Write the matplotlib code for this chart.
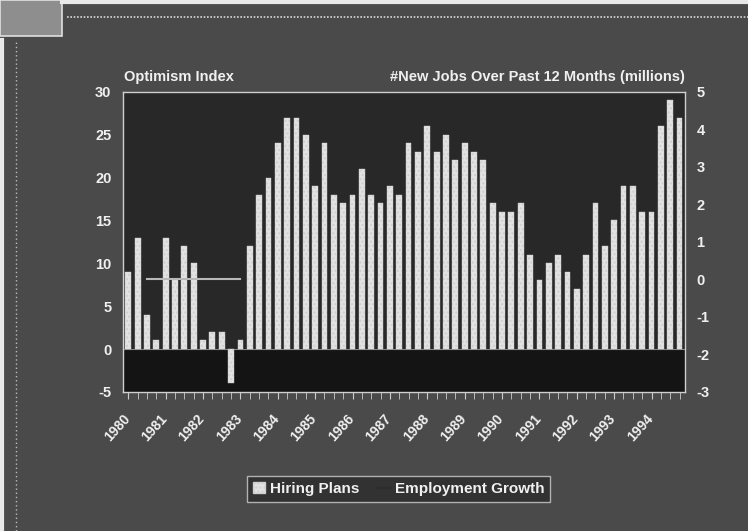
import matplotlib
matplotlib.use("Agg")
import matplotlib.pyplot as plt
import matplotlib.transforms as mtransforms
import numpy as np
from matplotlib.lines import Line2D
from matplotlib.patches import Rectangle

plt.rcParams['font.family'] = ['Liberation Sans', 'DejaVu Sans']

years = ["1980", "1981", "1982", "1983", "1984", "1985", "1986", "1987",
         "1988", "1989", "1990", "1991", "1992", "1993", "1994"]
hiring_plans = [9, 13, 4, 1, 13, 8, 12, 10, 1, 2, 2, -4,
                1, 12, 18, 20, 24, 27, 27, 25, 19, 24, 18, 17,
                18, 21, 18, 17, 19, 18, 24, 23, 26, 23, 25, 22,
                24, 23, 22, 17, 16, 16, 17, 11, 8, 10, 11, 9,
                7, 11, 17, 12, 15, 19, 19, 16, 16, 26, 29, 27]
# employment growth (right axis, millions); only a short segment is visible in the source
employment_growth = [np.nan, np.nan, 0, 0, 0, 0, 0, 0, 0, 0, 0, 0, 0] + [np.nan] * 47

left_ticks = [30, 25, 20, 15, 10, 5, 0, -5]
right_ticks = [5, 4, 3, 2, 1, 0, -1, -2, -3]

BG = "#4a4a4a"
PANEL = "#282828"
BAR = "#e2e2e2"
TXT = "#f0f0f0"

fig = plt.figure(figsize=(7.48, 5.31), dpi=100, facecolor=BG)
ax = fig.add_axes([0.164, 0.262, 0.752, 0.565])
ax.set_facecolor(PANEL)

x = np.arange(len(hiring_plans))
ax.axhspan(-5, 0, color="#141414", zorder=0)
bars = ax.bar(x, hiring_plans, width=0.62, color=BAR, edgecolor="#cfcfcf",
              linewidth=0.3, hatch="....", zorder=2, label="Hiring Plans")
ax.axhline(0, color="#8a8a8a", lw=0.8, zorder=1)

ax.set_xlim(-0.6, len(hiring_plans) - 0.4)
ax.set_ylim(-5, 30)
ax.set_yticks(left_ticks)
ax.set_yticklabels([str(t) for t in left_ticks], color=TXT, fontsize=10.5, fontweight="bold")
ax.tick_params(axis="y", length=0, pad=8)
ax.set_xticks(x[::4])
ax.set_xticklabels(years, rotation=48, ha="right", va="top", color=TXT,
                   fontsize=10, fontweight="bold", rotation_mode="anchor")
ax.set_xticks(x, minor=True)
ax.tick_params(axis="x", which="both", direction="out", length=5, color="#cccccc", pad=9)
offset = mtransforms.ScaledTranslation(-6 / 100, 0, fig.dpi_scale_trans)
for lbl in ax.get_xticklabels():
    lbl.set_transform(lbl.get_transform() + offset)

for s in ax.spines.values():
    s.set_color("#cfcfcf")
    s.set_linewidth(1.0)

ax2 = ax.twinx()
ax2.set_ylim(-3, 5)
ax2.set_yticks(right_ticks)
ax2.set_yticklabels([str(t) for t in right_ticks], color=TXT, fontsize=10.5, fontweight="bold")
ax2.tick_params(axis="y", length=0, pad=8)
ax2.plot(x, employment_growth, color="#b8b8b8", lw=1.5, zorder=3)
for s in ax2.spines.values():
    s.set_visible(False)

fig.text(0.166, 0.848, "Optimism Index", color=TXT, fontsize=10.5, fontweight="bold")
fig.text(0.916, 0.848, "#New Jobs Over Past 12 Months (millions)", color=TXT,
         fontsize=10.5, fontweight="bold", ha="right")

handles = [Rectangle((0, 0), 1, 1, facecolor=BAR, edgecolor="#cfcfcf", hatch="...."),
           Line2D([0], [0], color="#2c2c2c", lw=1.5)]
leg = fig.legend(handles, ["Hiring Plans", "Employment Growth"], loc="center",
                 bbox_to_anchor=(0.533, 0.079), ncol=2, frameon=True, fancybox=False,
                 facecolor="#2c2c2c", edgecolor="#cfcfcf", handlelength=0.8,
                 handleheight=0.7, handletextpad=0.3, columnspacing=1.2,
                 prop={"weight": "bold", "size": 11})
for t in leg.get_texts():
    t.set_color(TXT)

# decorative frame elements
fig.add_artist(Rectangle((0, 0.932), 0.083, 0.068, transform=fig.transFigure,
                         facecolor="#8e8e8e", edgecolor="#e0e0e0", lw=1.2))
fig.add_artist(Line2D([0.09, 1.0], [0.968, 0.968], transform=fig.transFigure,
                      color="#d8d8d8", lw=1.2, linestyle=(0, (1, 1))))
fig.add_artist(Line2D([0.022, 0.022], [0.0, 0.925], transform=fig.transFigure,
                      color="#bdbdbd", lw=1.0, linestyle=(0, (1, 2))))
fig.add_artist(Line2D([0.083, 1.0], [0.996, 0.996], transform=fig.transFigure,
                      color="#e8e8e8", lw=3))
fig.add_artist(Line2D([0.003, 0.003], [0.0, 0.925], transform=fig.transFigure,
                      color="#e8e8e8", lw=3))

fig.savefig("out.png", dpi=100, facecolor=BG)
